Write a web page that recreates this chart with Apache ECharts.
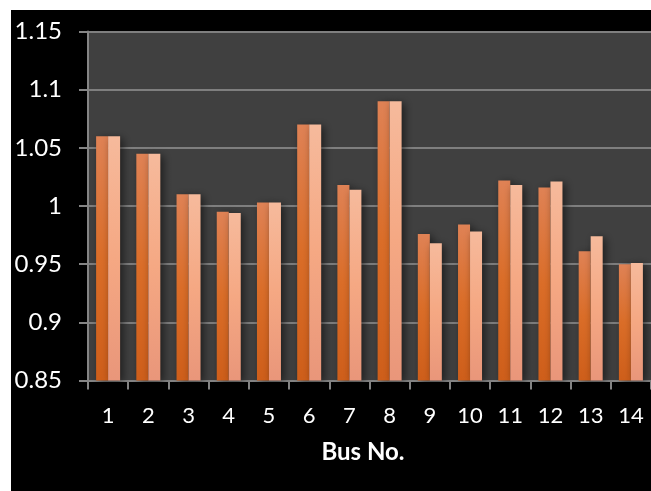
<!DOCTYPE html>
<html>
<head>
<meta charset="utf-8">
<script src="https://cdn.jsdelivr.net/npm/echarts@6/dist/echarts.min.js"></script>
<style>
  html, body { margin: 0; padding: 0; background: #fff; width: 651px; height: 491px; overflow: hidden; }
  #chart { position: absolute; left: 11px; top: 10px; width: 640px; height: 481px; }
</style>
</head>
<body>
<div id="chart"></div>
<script>
// Bus numbers along the x axis
const busNumbers = ['1', '2', '3', '4', '5', '6', '7', '8', '9', '10', '11', '12', '13', '14'];
// Voltage magnitudes (p.u.) for the two cases
const voltageA = [1.060, 1.045, 1.010, 0.995, 1.003, 1.070, 1.018, 1.090, 0.976, 0.984, 1.022, 1.016, 0.961, 0.950];
const voltageB = [1.060, 1.045, 1.010, 0.994, 1.003, 1.070, 1.014, 1.090, 0.968, 0.978, 1.018, 1.021, 0.974, 0.951];
// Value axis range
const yMin = 0.85, yMax = 1.15, yStep = 0.05;

const fontFamily = 'Lato, "Open Sans", sans-serif';

function vGrad(stops) {
  return new echarts.graphic.LinearGradient(0, 0, 0, 1,
    stops.map((c, i) => ({ offset: i / (stops.length - 1), color: c })));
}

const barShadow = {
  shadowColor: 'rgba(0,0,0,0.55)',
  shadowBlur: 8,
  shadowOffsetX: 3,
  shadowOffsetY: 2
};

const chart = echarts.init(document.getElementById('chart'), null, { renderer: 'canvas' });
chart.setOption({
  backgroundColor: '#000',
  animation: false,
  grid: {
    left: 77, top: 21.5, width: 570, height: 349,
    show: true, backgroundColor: '#404040', borderWidth: 0
  },
  xAxis: {
    type: 'category',
    data: busNumbers,
    axisLine: { show: true, lineStyle: { color: '#858585', width: 2 } },
    axisTick: { show: true, length: 9, alignWithLabel: false, lineStyle: { color: '#858585', width: 2 } },
    axisLabel: { color: '#fff', fontSize: 22, fontFamily: fontFamily, margin: 24, interval: 0 },
    splitLine: { show: false }
  },
  yAxis: {
    type: 'value',
    min: yMin, max: yMax, interval: yStep,
    axisLine: { show: true, lineStyle: { color: '#858585', width: 2 } },
    axisTick: { show: true, length: 9, lineStyle: { color: '#858585', width: 2 } },
    axisLabel: {
      color: '#fff', fontSize: 24, fontFamily: fontFamily, margin: 26,
      formatter: v => String(+v.toFixed(2))
    },
    splitLine: { show: true, lineStyle: { color: '#7f7f7f', width: 2 } }
  },
  graphic: [{
    type: 'text',
    x: 352, y: 442,
    style: {
      text: 'Bus No.', fill: '#fff', font: 'bold 24px ' + fontFamily,
      textAlign: 'center', textVerticalAlign: 'middle'
    }
  }],
  series: [
    {
      type: 'bar',
      data: voltageA,
      barWidth: 12,
      barGap: '0%',
      itemStyle: Object.assign({ color: vGrad(['#DF8255', '#DA6D28', '#CE5E1A']) }, barShadow)
    },
    {
      type: 'bar',
      data: voltageB,
      barWidth: 12,
      itemStyle: Object.assign({ color: vGrad(['#F6BA9C', '#F5A883', '#E9967A']) }, barShadow)
    }
  ]
});
</script>
</body>
</html>
